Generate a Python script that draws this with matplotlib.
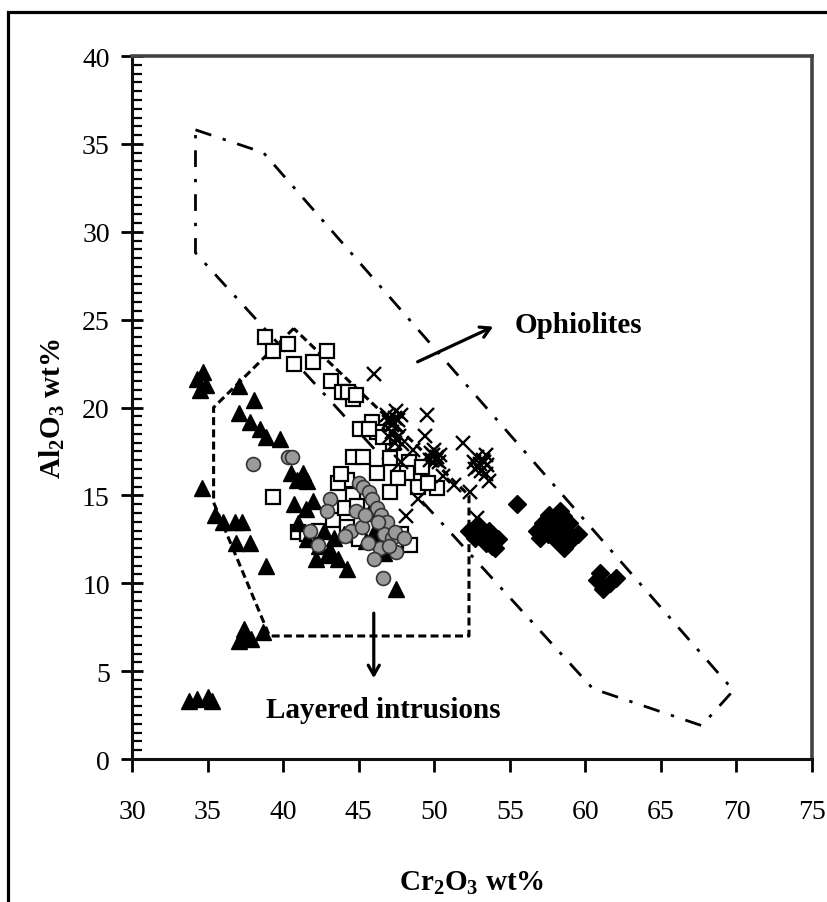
import matplotlib
matplotlib.use("Agg")
import matplotlib.pyplot as plt
from matplotlib.ticker import MultipleLocator
from matplotlib.patches import Rectangle

plt.rcParams['font.family'] = ['Liberation Serif', 'DejaVu Serif']
plt.rcParams['mathtext.fontset'] = 'custom'
plt.rcParams['mathtext.rm'] = 'Liberation Serif:bold'
plt.rcParams['mathtext.it'] = 'Liberation Serif:bold:italic'
plt.rcParams['mathtext.bf'] = 'Liberation Serif:bold'

# ---- data (Cr2O3 wt%, Al2O3 wt%) ----
tri_cr = [34.3, 34.7, 34.9, 34.5, 34.6, 36.0, 36.8, 37.3, 35.5, 36.9, 37.8, 38.9,
          37.1, 38.1, 37.1, 37.8, 38.5, 38.9, 39.8, 40.5, 41.3, 41.6, 40.9, 40.7, 42.0,
          37.5, 37.9, 38.7, 37.1, 37.4, 33.8, 34.3, 35.0, 35.3,
          41.6, 42.4, 42.9, 43.6, 44.2, 42.2, 43.1, 41.0, 41.5, 42.7, 43.4, 44.0,
          45.5, 46.2, 46.7, 47.5, 46.0, 45.7]
tri_al = [21.6, 22.0, 21.3, 21.0, 15.4, 13.5, 13.5, 13.5, 13.9, 12.3, 12.3, 11.0,
          21.2, 20.4, 19.7, 19.2, 18.8, 18.3, 18.2, 16.3, 16.3, 15.8, 15.9, 14.5, 14.7,
          7.0, 6.8, 7.2, 6.7, 7.4, 3.3, 3.4, 3.5, 3.3,
          12.5, 12.1, 11.6, 11.4, 10.8, 11.4, 11.9, 13.4, 14.2, 13.0, 12.6, 12.8,
          12.4, 12.5, 11.7, 9.7, 12.9, 14.0]

sq_cr = [38.8, 39.3, 40.3, 40.7, 42.0, 42.9, 43.2, 43.9, 44.6, 44.3, 44.8, 45.1,
         45.9, 46.2, 47.3, 44.6, 45.3, 47.1, 48.3, 48.9, 50.2, 47.1, 46.2, 48.2,
         44.2, 44.6, 39.3, 41.0, 41.6, 42.4, 43.3, 44.2, 45.0, 47.4, 48.4, 47.8,
         46.5, 44.1, 43.6, 49.6, 49.2, 46.6, 45.7, 47.6, 43.8, 44.9]
sq_al = [24.0, 23.2, 23.6, 22.5, 22.6, 23.2, 21.5, 20.9, 20.5, 20.9, 20.7, 18.8,
         19.2, 18.6, 18.0, 17.2, 17.2, 17.1, 16.9, 15.5, 15.4, 15.2, 16.3, 16.3,
         15.9, 15.0, 14.9, 12.9, 12.8, 13.0, 13.6, 13.2, 12.5, 12.3, 12.2, 12.8,
         13.1, 14.3, 15.7, 15.7, 16.6, 18.3, 18.8, 16.0, 16.2, 14.4]

circ_cr = [38.0, 40.3, 40.6, 43.1, 42.9, 41.8, 42.3, 44.5, 45.0, 45.3, 45.7, 45.9,
           46.2, 46.5, 46.9, 46.7, 46.4, 46.0, 45.6, 45.2, 44.8, 47.2, 47.5, 47.0,
           46.6, 47.4, 48.0, 44.1, 45.4, 46.3]
circ_al = [16.8, 17.2, 17.2, 14.8, 14.1, 13.0, 12.2, 13.0, 15.7, 15.5, 15.2, 14.8,
           14.3, 13.9, 13.5, 12.8, 12.0, 11.4, 12.3, 13.2, 14.1, 12.6, 11.8, 12.1,
           10.3, 12.9, 12.6, 12.7, 13.9, 13.5]

x_cr = [46.0, 49.5, 49.4, 51.9, 52.4, 52.8, 48.1, 48.9, 53.6, 47.8, 48.6, 50.6,
        51.3, 53.4,
        46.9, 47.0, 47.4, 47.2, 47.8, 47.5, 47.3, 47.1, 47.6,
        47.0, 47.4, 47.7, 47.2, 47.9, 47.5,
        49.8, 50.1, 50.4, 50.0, 50.3, 49.7, 50.2, 49.9,
        52.6, 52.9, 53.2, 53.5, 52.8, 53.1, 53.4, 52.7, 53.0, 53.3]
x_al = [21.9, 19.6, 18.4, 18.0, 15.2, 13.7, 13.8, 14.8, 15.8, 16.9, 17.6, 16.1,
        15.6, 16.2,
        19.6, 19.2, 19.4, 19.0, 19.6, 19.8, 19.1, 19.4, 19.3,
        18.3, 18.0, 18.4, 18.6, 17.9, 18.2,
        17.4, 17.0, 17.3, 17.6, 16.9, 17.0, 17.2, 17.3,
        16.9, 16.6, 17.0, 16.7, 17.2, 16.4, 17.3, 16.5, 16.8, 16.9]

dia_cr = [52.3, 52.7, 53.0, 53.4, 53.8, 54.2, 53.6, 52.9, 54.0, 55.5,
          56.8, 57.2, 57.5, 57.8, 58.2, 58.5, 58.0, 58.8, 59.2, 58.3, 57.0, 58.6,
          59.5, 57.6, 58.9, 60.8, 61.2, 61.6, 62.0, 61.0]
dia_al = [13.0, 12.6, 12.9, 12.3, 12.1, 12.5, 13.0, 13.3, 12.0, 14.5,
          13.0, 13.4, 12.8, 13.6, 13.1, 13.8, 12.5, 12.9, 12.6, 14.1, 12.6, 12.0,
          12.8, 13.9, 13.4, 10.2, 9.7, 10.0, 10.3, 10.6]

# field outlines
ophio_cr = [34.2, 38.7, 69.8, 67.7, 60.5, 34.2, 34.2]
ophio_al = [35.8, 34.5, 3.9, 1.9, 4.0, 28.8, 35.8]
layer_cr = [40.7, 35.4, 35.4, 39.1, 52.3, 52.3, 40.7]
layer_al = [24.5, 20.0, 14.6, 7.0, 7.0, 15.0, 24.5]

xticks = [30, 35, 40, 45, 50, 55, 60, 65, 70, 75]
yticks = [0, 5, 10, 15, 20, 25, 30, 35, 40]

fig = plt.figure(figsize=(8.28, 9.03), dpi=100)
ax = fig.add_axes([132 / 828, 1 - 760 / 903, 680 / 828, 703 / 903])

# outer frame of the figure
fig.patches.append(Rectangle((8 / 828, -0.05), 1.2, 1 - 13 / 903 + 0.05,
                             transform=fig.transFigure, fill=False,
                             edgecolor='black', linewidth=2.3))

ax.plot(ophio_cr, ophio_al, color='black', lw=2.0,
        linestyle=(0, (6, 4.3, 1.2, 4.3)), zorder=2)
ax.plot(layer_cr, layer_al, color='black', lw=2.2,
        linestyle=(0, (2.6, 1.4)), zorder=2)

ax.plot(sq_cr, sq_al, 's', ms=10.5, mfc='white', mec='black', mew=1.6, zorder=3)
ax.plot(tri_cr, tri_al, '^', ms=12, mfc='black', mec='black', mew=1.0, zorder=4)
ax.plot(circ_cr, circ_al, 'o', ms=10, mfc='#9a9a9a', mec='#333333', mew=1.2, zorder=5)
ax.plot(x_cr, x_al, 'x', ms=10, color='black', mew=1.7, zorder=6)
ax.plot(dia_cr, dia_al, 'D', ms=9, mfc='black', mec='black', zorder=6)

arrow = dict(arrowstyle='->,head_length=0.7,head_width=0.4', color='black', lw=2.3,
             shrinkA=0, shrinkB=0)
ax.annotate('', xy=(53.9, 24.6), xytext=(48.9, 22.6), arrowprops=arrow, zorder=7)
ax.annotate('', xy=(46.0, 4.6), xytext=(46.0, 8.3), arrowprops=arrow, zorder=7)
ax.text(55.3, 24.3, 'Ophiolites', fontsize=21, fontweight='bold',
        ha='left', va='baseline')
ax.text(46.6, 2.4, 'Layered intrusions', fontsize=21, fontweight='bold',
        ha='center', va='baseline')

ax.set_xlim(30, 75)
ax.set_ylim(0, 40)
ax.set_xticks(xticks)
ax.set_yticks(yticks)
ax.yaxis.set_minor_locator(MultipleLocator(0.5))
ax.tick_params(axis='x', which='major', direction='out', length=9, width=2,
               labelsize=20, pad=20)
ax.tick_params(axis='y', which='major', direction='inout', length=16, width=2,
               labelsize=20, pad=8)
ax.tick_params(axis='y', which='minor', direction='in', length=7, width=1.6)
ax.tick_params(top=False, right=False)

for side in ['left', 'bottom']:
    ax.spines[side].set_linewidth(2.2)
    ax.spines[side].set_color('#111111')
for side in ['top', 'right']:
    ax.spines[side].set_linewidth(2.6)
    ax.spines[side].set_color('#444444')

ax.set_xlabel('Cr$_2$O$_3$ wt%', fontsize=21, fontweight='bold')
ax.set_ylabel('Al$_2$O$_3$ wt%', fontsize=21, fontweight='bold')
ax.xaxis.set_label_coords(0.5, -(883 - 760) / 703)
ax.yaxis.set_label_coords((52 - 132) / 680, 0.5)
ax.xaxis.label.set_va('center')
ax.yaxis.label.set_va('center')

fig.savefig('out.png', dpi=100)
